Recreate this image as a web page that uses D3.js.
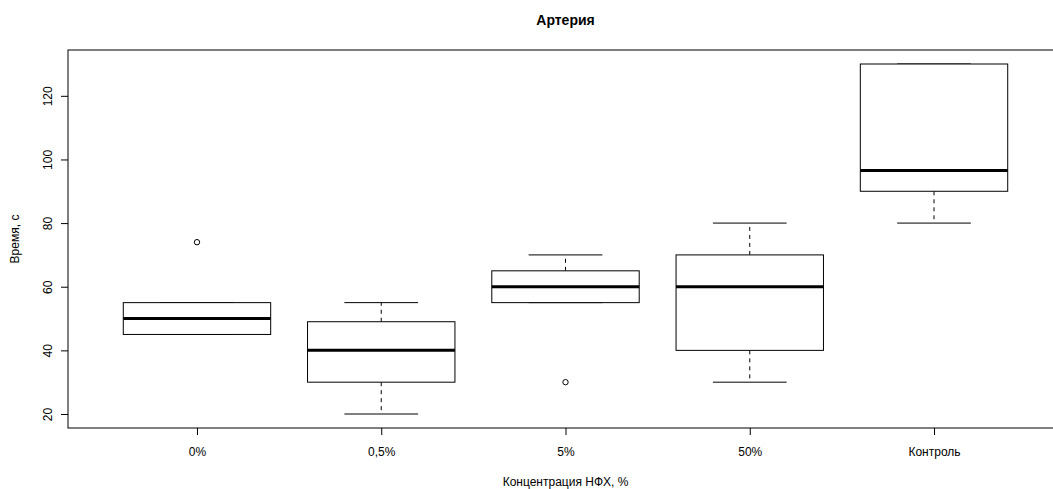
<!DOCTYPE html>
<html>
<head>
<meta charset="utf-8">
<script src="https://cdn.jsdelivr.net/npm/d3@7"></script>
<style>
  html, body { margin: 0; padding: 0; background: #fff; }
  svg { display: block; font-family: "Liberation Sans", Arial, sans-serif; }
</style>
</head>
<body>
<svg id="chart" width="1053" height="489"></svg>
<script>
const categories = ["0%", "0,5%", "5%", "50%", "Контроль"];
const whiskerLow = [45, 20, 55, 30, 80];
const q1 = [45, 30, 55, 40, 90];
const medians = [50, 40, 60, 60, 96.5];
const q3 = [55, 49, 65, 70, 130];
const whiskerHigh = [55, 55, 70, 80, 130];
const outliers = [[74], [], [30], [], []];
const yTicks = [20, 40, 60, 80, 100, 120];

const title = "Артерия";
const xTitle = "Концентрация НФХ, %";
const yTitle = "Время, с";

const svg = d3.select("#chart");
const pLeft = 68, pRight = 1063, pTop = 50, pBottom = 428;

const x = d3.scaleLinear().domain([0.3, 5.7]).range([pLeft, pRight]);
const y = d3.scaleLinear().domain([15.6, 134.4]).range([pBottom, pTop]);
const boxHalf = 0.4, stapleHalf = 0.2;

const data = categories.map((c, i) => ({
  c, i: i + 1, lo: whiskerLow[i], q1: q1[i], med: medians[i], q3: q3[i], hi: whiskerHigh[i], out: outliers[i]
}));

const g = svg.append("g");

data.forEach(d => {
  const gg = g.append("g");
  if (d.hi > d.q3) {
    gg.append("line").attr("x1", x(d.i)).attr("x2", x(d.i)).attr("y1", y(d.q3)).attr("y2", y(d.hi))
      .attr("stroke", "#000").attr("stroke-dasharray", "4,4");
  }
  if (d.lo < d.q1) {
    gg.append("line").attr("x1", x(d.i)).attr("x2", x(d.i)).attr("y1", y(d.q1)).attr("y2", y(d.lo))
      .attr("stroke", "#000").attr("stroke-dasharray", "4,4");
  }
  gg.append("line").attr("x1", x(d.i - stapleHalf)).attr("x2", x(d.i + stapleHalf))
    .attr("y1", y(d.hi)).attr("y2", y(d.hi)).attr("stroke", "#000");
  gg.append("line").attr("x1", x(d.i - stapleHalf)).attr("x2", x(d.i + stapleHalf))
    .attr("y1", y(d.lo)).attr("y2", y(d.lo)).attr("stroke", "#000");
  gg.append("rect").attr("x", x(d.i - boxHalf)).attr("width", x(d.i + boxHalf) - x(d.i - boxHalf))
    .attr("y", y(d.q3)).attr("height", y(d.q1) - y(d.q3))
    .attr("fill", "#fff").attr("stroke", "#000");
  gg.append("line").attr("x1", x(d.i - boxHalf)).attr("x2", x(d.i + boxHalf))
    .attr("y1", y(d.med)).attr("y2", y(d.med)).attr("stroke", "#000").attr("stroke-width", 3);
  d.out.forEach(v => {
    gg.append("circle").attr("cx", x(d.i)).attr("cy", y(v)).attr("r", 2.7)
      .attr("fill", "none").attr("stroke", "#000");
  });
});

svg.append("rect").attr("x", pLeft).attr("y", pTop).attr("width", pRight - pLeft).attr("height", pBottom - pTop)
  .attr("fill", "none").attr("stroke", "#000");

const yAxis = svg.append("g").attr("transform", `translate(${pLeft},0)`)
  .call(d3.axisLeft(y).tickValues(yTicks).tickSize(7).tickPadding(0).tickFormat(d3.format("d")));
yAxis.select(".domain").remove();
yAxis.selectAll(".tick line").attr("stroke", "#000");
yAxis.selectAll(".tick text")
  .attr("x", 0).attr("dy", null)
  .attr("transform", "translate(-20,0) rotate(-90)")
  .attr("text-anchor", "middle").attr("dominant-baseline", "central")
  .attr("font-size", 12).attr("fill", "#000")
  .style("font-family", "'Liberation Sans', Arial, sans-serif");

const xAxis = svg.append("g").attr("transform", `translate(0,${pBottom})`)
  .call(d3.axisBottom(x).tickValues(data.map(d => d.i)).tickSize(7).tickPadding(12)
    .tickFormat(v => categories[v - 1]));
xAxis.select(".domain").remove();
xAxis.selectAll(".tick line").attr("stroke", "#000");
xAxis.selectAll(".tick text").attr("font-size", 12).attr("fill", "#000")
  .style("font-family", "'Liberation Sans', Arial, sans-serif");

svg.append("text").attr("x", (pLeft + pRight) / 2).attr("y", 25).attr("text-anchor", "middle")
  .attr("font-size", 14).attr("font-weight", "bold").text(title);
svg.append("text").attr("x", (pLeft + pRight) / 2).attr("y", 486).attr("text-anchor", "middle")
  .attr("font-size", 12).text(xTitle);
svg.append("text").attr("transform", `translate(19,${(pTop + pBottom) / 2}) rotate(-90)`)
  .attr("text-anchor", "middle").attr("font-size", 12).text(yTitle);
</script>
</body>
</html>
